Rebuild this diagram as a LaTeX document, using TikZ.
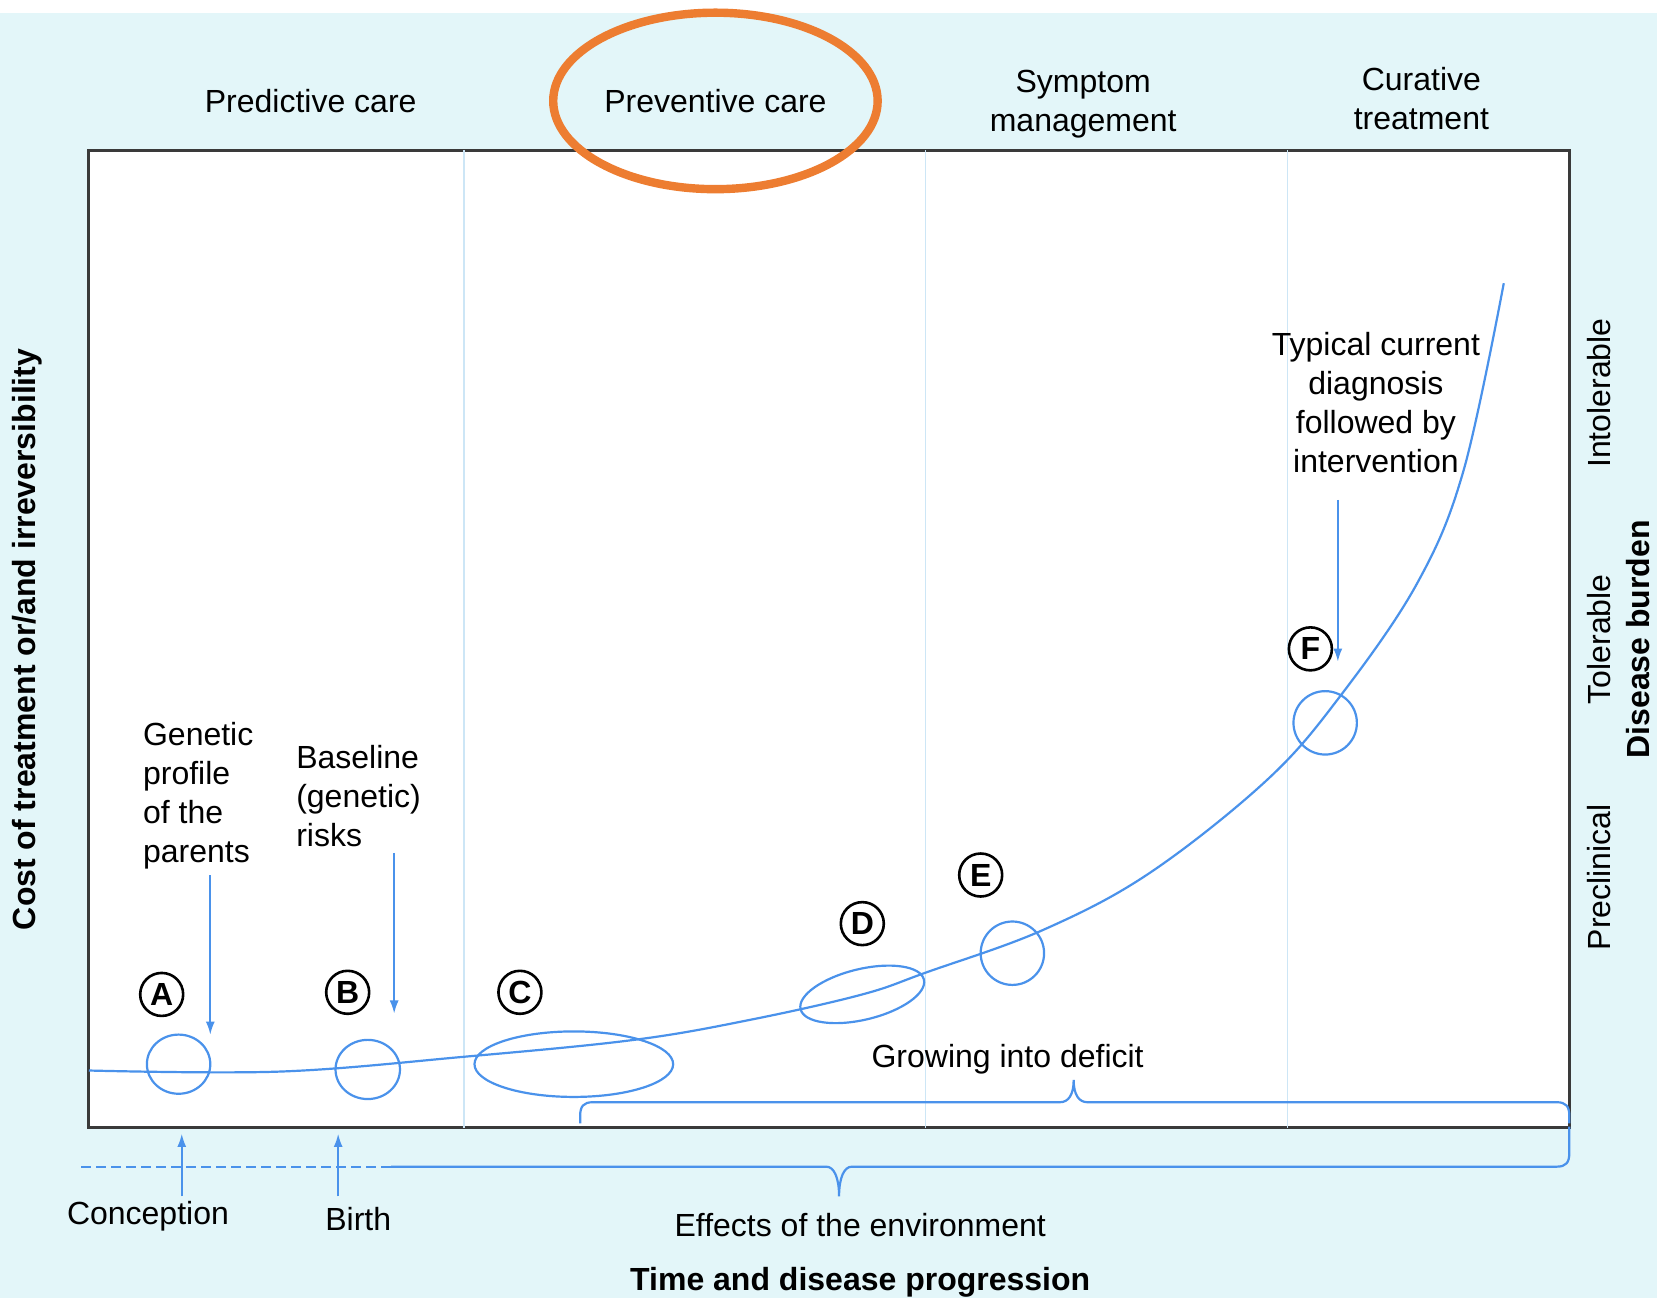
\documentclass[tikz,border=0pt]{standalone}
\usepackage{fontspec}
\setmainfont{Liberation Sans}
\usetikzlibrary{arrows.meta, calc}

\definecolor{bgcyan}{RGB}{227,246,249}
\definecolor{curveblue}{RGB}{74,146,235}
\definecolor{divblue}{RGB}{205,230,246}
\definecolor{markorange}{RGB}{237,125,49}
\definecolor{boxgray}{RGB}{58,58,58}

\tikzset{
  txt/.style={inner sep=0pt},
  ttl/.style={inner sep=0pt, font=\fontsize{16}{19.5}\selectfont\bfseries},
  circlbl/.style={circle, draw=black, line width=1.3pt, minimum size=21.5pt, inner sep=0pt, font=\fontsize{16}{16}\selectfont\bfseries},
  blueline/.style={draw=curveblue, line width=1.1pt},
  ptr/.style={draw=curveblue, line width=0.8pt, -{Latex[length=6.5pt, width=4.5pt]}},
  divider/.style={draw=divblue, line width=0.6pt},
}

\begin{document}
\begin{tikzpicture}[x=0.5284pt, y=-0.5284pt, font=\fontsize{16}{19.5}\selectfont]
    \useasboundingbox (0,0) rectangle (1568,1228);

    % frame and chart box
    \coordinate (f01) at (0,0);
    \coordinate (f02) at (1568,1228);
    \coordinate (f03) at (0,12.5);
    \coordinate (a01) at (84,142);
    \coordinate (a02) at (1485,1067);

    % ellipses on the curve
    \coordinate (c01) at (169,1007);
    \coordinate (c02) at (348,1012);
    \coordinate (c03) at (543,1007);
    \coordinate (c04) at (816,941);
    \coordinate (c05) at (958,902);
    \coordinate (c06) at (1254,684);
    \coordinate (e01) at (677,95.5);

    % arrows
    \coordinate (r01) at (199,828);
    \coordinate (r02) at (199,979);
    \coordinate (r03) at (373,807);
    \coordinate (r04) at (373,959);
    \coordinate (r05) at (1266,473);
    \coordinate (r06) at (1266,626);
    \coordinate (r07) at (172,1132);
    \coordinate (r08) at (172,1073);
    \coordinate (r09) at (320,1132);
    \coordinate (r10) at (320,1073);

    % braces
    \coordinate (b01) at (549,1063);
    \coordinate (b02) at (1016,1022);
    \coordinate (b03) at (1485,1063);
    \coordinate (b04) at (77,1104);
    \coordinate (b05) at (370,1104);
    \coordinate (b06) at (794,1132);
    \coordinate (b07) at (1485,1066);

    \fill[white] (f01) rectangle (f02);
    \fill[bgcyan] (f03) rectangle (f02);
    \draw[draw=boxgray, line width=1.5pt, fill=white] (a01) rectangle (a02);
    \foreach \x in {439,876,1218}
      \draw[divider] (\x,142) -- (\x,1067);

    \draw[blueline] plot[smooth, tension=0.6] coordinates {
      (84,1013) (265,1014) (439,1000) (600,984) (710,965) (816,941) (877,920)
      (987,880) (1088,826) (1199,738) (1268,659) (1341,552) (1385,445) (1423,268)};

    \draw[blueline] (c01) ellipse [x radius=30, y radius=28];
    \draw[blueline] (c02) ellipse [x radius=30.5, y radius=28];
    \draw[blueline] (c03) ellipse [x radius=94, y radius=31];
    \draw[blueline, rotate around={13.5:(c04)}] (c04) ellipse [x radius=60, y radius=24];
    \draw[blueline] (c05) circle [radius=30];
    \draw[blueline] (c06) circle [radius=30];

    \node[circlbl] (lA) at (153,941) {A};
    \node[circlbl] (lB) at (329,939) {B};
    \node[circlbl] (lC) at (492,939) {C};
    \node[circlbl] (lD) at (816,874) {D};
    \node[circlbl] (lE) at (928,828) {E};
    \node[circlbl] (lF) at (1240,614) {F};

    \draw[ptr] (r01) -- (r02);
    \draw[ptr] (r03) -- (r04);
    \draw[ptr] (r05) -- (r06);
    \draw[ptr] (r07) -- (r08);
    \draw[ptr] (r09) -- (r10);

    \draw[blueline] (b01) -- (549,1056) .. controls (549,1047) and (552,1043) .. (561,1043)
      -- (1003,1043) .. controls (1011,1043) and (1016,1036) .. (b02)
      .. controls (1016,1036) and (1021,1043) .. (1029,1043)
      -- (1473,1043) .. controls (1482,1043) and (1485,1047) .. (1485,1056) -- (b03);
    \draw[blueline, dash pattern=on 5pt off 2.5pt] (b04) -- (b05);
    \draw[blueline] (b05) -- (782,1104) .. controls (789,1104) and (794,1114) .. (b06)
      .. controls (794,1114) and (799,1104) .. (806,1104)
      -- (1473,1104) .. controls (1482,1104) and (1485,1100) .. (1485,1091) -- (b07);

    \draw[markorange, line width=4.2pt] (e01) ellipse [x radius=153.5, y radius=83.5];

    \node[txt, anchor=base] (t01) at (294,106) {Predictive care};
    \node[txt, anchor=base] (t02) at (677,106) {Preventive care};
    \node[txt, align=center, anchor=north] (t03) at (1025,66) {Symptom\\management};
    \node[txt, align=center, anchor=north] (t04) at (1345,63) {Curative\\treatment};

    \node[txt, align=left, anchor=north west] (t05) at (135,683) {Genetic\\profile\\of the\\parents};
    \node[txt, align=left, anchor=north west] (t06) at (280,705) {Baseline\\(genetic)\\risks};
    \node[txt, align=center, anchor=north] (t07) at (1302,314) {Typical current\\diagnosis\\followed by\\intervention};
    \node[txt, anchor=base] (t08) at (953.5,1010) {Growing into deficit};

    \node[txt, anchor=base] (t09) at (140,1159) {Conception};
    \node[txt, anchor=base] (t10) at (339,1164) {Birth};
    \node[txt, anchor=base] (t11) at (814,1170) {Effects of the environment};
    \node[ttl, anchor=base] (t12) at (814,1221) {Time and disease progression};

    \node[ttl, anchor=base, rotate=90] (t13) at (34,605) {Cost of treatment or/and irreversibility};
    \node[txt, anchor=base, rotate=90] (t14) at (1524,372) {Intolerable};
    \node[txt, anchor=base, rotate=90] (t15) at (1524,605) {Tolerable};
    \node[txt, anchor=base, rotate=90] (t16) at (1524,830) {Preclinical};
    \node[ttl, anchor=base, rotate=90] (t17) at (1561,605) {Disease burden};
  \end{tikzpicture}
\end{document}
